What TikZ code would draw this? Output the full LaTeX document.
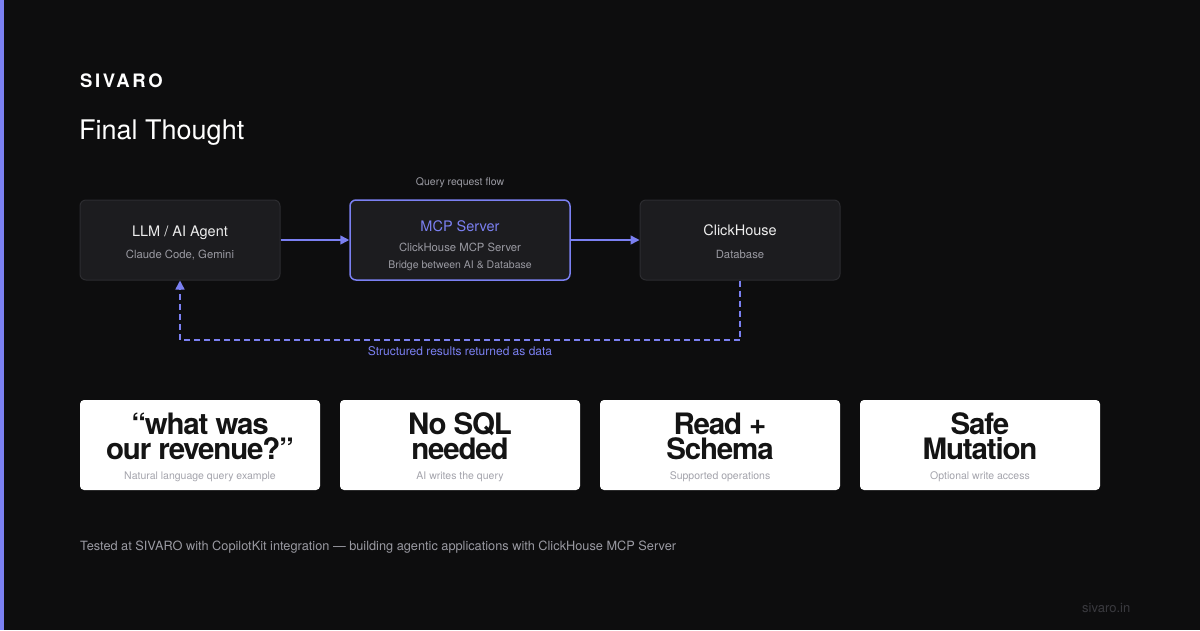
\documentclass[tikz,border=0pt]{standalone}
\usepackage{fontspec}
\setmainfont{TeX Gyre Heros}
\newfontfamily\bigfont[LetterSpace=-4]{TeX Gyre Heros}
\newfontfamily\logofont[LetterSpace=14]{TeX Gyre Heros}
\usetikzlibrary{arrows.meta}
\definecolor{bg}{HTML}{0D0D0E}
\definecolor{boxfill}{HTML}{1C1C1F}
\definecolor{boxline}{HTML}{2C2C30}
\definecolor{accent}{HTML}{7B80F2}
\definecolor{greytxt}{HTML}{9A9AA2}
\definecolor{whitetxt}{HTML}{EDEDED}
\definecolor{cardsub}{HTML}{A4A4AC}
\definecolor{dimtxt}{HTML}{3A3A3F}
\definecolor{cardtxt}{HTML}{141414}
\begin{document}
\begin{tikzpicture}[x=1pt,y=-1pt,
  flowbox/.style={draw=boxline,line width=1pt,fill=boxfill,rounded corners=6pt,minimum width=200pt,minimum height=80pt,inner sep=0pt},
  mcpbox/.style={draw=accent,line width=1.5pt,fill=boxfill,rounded corners=6pt,minimum width=220pt,minimum height=80pt,inner sep=0pt},
  card/.style={fill=white,rounded corners=4pt,minimum width=240pt,minimum height=90pt,inner sep=0pt},
  txt/.style={inner sep=0pt,anchor=base},
  boxtitle/.style={txt,text=whitetxt,font=\fontsize{14.5}{17}\selectfont},
  boxsub/.style={txt,text=greytxt,font=\fontsize{11.3}{13}\selectfont},
  bigtxt/.style={txt,text=cardtxt,text height=20pt,text depth=1pt,font=\bigfont\bfseries\fontsize{29.5}{30}\selectfont},
  cardsubtxt/.style={txt,text=cardsub,font=\fontsize{10.5}{12}\selectfont},
  flowarrow/.style={draw=accent,line width=1.5pt,-{Triangle[length=9pt,width=9pt]}},
  returnarrow/.style={draw=accent,line width=1.5pt,dash pattern=on 6pt off 4pt,-{Triangle[length=9pt,width=9pt]}}
]
\fill[bg] (0,0) rectangle (1200,630);
\useasboundingbox (0,0) rectangle (1200,630);
\fill[accent] (0,0) rectangle (4,630);

\node[txt,anchor=base west,text=white,font=\logofont\bfseries\fontsize{18.5}{20}\selectfont] (logo) at (80,87) {SIVARO};
\node[txt,anchor=base west,text=white,font=\fontsize{27}{30}\selectfont] (title) at (79,139) {Final Thought};

\node[txt,text=greytxt,font=\fontsize{10.5}{12}\selectfont] (qlabel) at (460,185) {Query request flow};

\node[flowbox] (llm) at (180,240) {};
\node[mcpbox] (mcp) at (460,240) {};
\node[flowbox] (ch) at (740,240) {};

\node[boxtitle] (llmt) at (180,236) {LLM / AI Agent};
\node[boxsub] (llms) at (180,258) {Claude Code, Gemini};
\node[boxtitle,text=accent] (mcpt) at (460,231) {MCP Server};
\node[boxsub] (mcps) at (460,251) {ClickHouse MCP Server};
\node[boxsub,font=\fontsize{10.5}{12}\selectfont] (mcpd) at (460,268) {Bridge between AI \& Database};
\node[boxtitle] (cht) at (740,235) {ClickHouse};
\node[boxsub] (chs) at (740,258) {Database};

\draw[flowarrow] (llm.east) -- (mcp.west);
\draw[flowarrow] (mcp.east) -- (ch.west);
\coordinate (rr) at (740,340);
\coordinate (rl) at (180,340);
\draw[returnarrow] (ch.south) -- (rr) -- (rl) -- (llm.south);
\node[txt,text=accent,font=\fontsize{12}{14}\selectfont] (rlabel) at (460,355.5) {Structured results returned as data};

\node[card] (c1) at (200,445) {};
\node[card] (c2) at (460,445) {};
\node[card] (c3) at (720,445) {};
\node[card] (c4) at (980,445) {};

\node[bigtxt] (c1a) at (200,434) {“what was};
\node[bigtxt] (c1b) at (200,459) {our revenue?”};
\node[cardsubtxt] (c1s) at (200,479) {Natural language query example};
\node[bigtxt] (c2a) at (460,434) {No SQL};
\node[bigtxt] (c2b) at (460,459) {needed};
\node[cardsubtxt] (c2s) at (460,479) {AI writes the query};
\node[bigtxt] (c3a) at (720,434) {Read +};
\node[bigtxt] (c3b) at (720,459) {Schema};
\node[cardsubtxt] (c3s) at (720,479) {Supported operations};
\node[bigtxt] (c4a) at (980,434) {Safe};
\node[bigtxt] (c4b) at (980,459) {Mutation};
\node[cardsubtxt] (c4s) at (980,479) {Optional write access};

\node[txt,anchor=base west,text=greytxt,font=\fontsize{12.75}{14}\selectfont] (footer) at (80,550) {Tested at SIVARO with CopilotKit integration — building agentic applications with ClickHouse MCP Server};
\node[txt,anchor=base west,text=dimtxt,font=\fontsize{13}{15}\selectfont] (site) at (1082,612) {sivaro.in};
\end{tikzpicture}
\end{document}
